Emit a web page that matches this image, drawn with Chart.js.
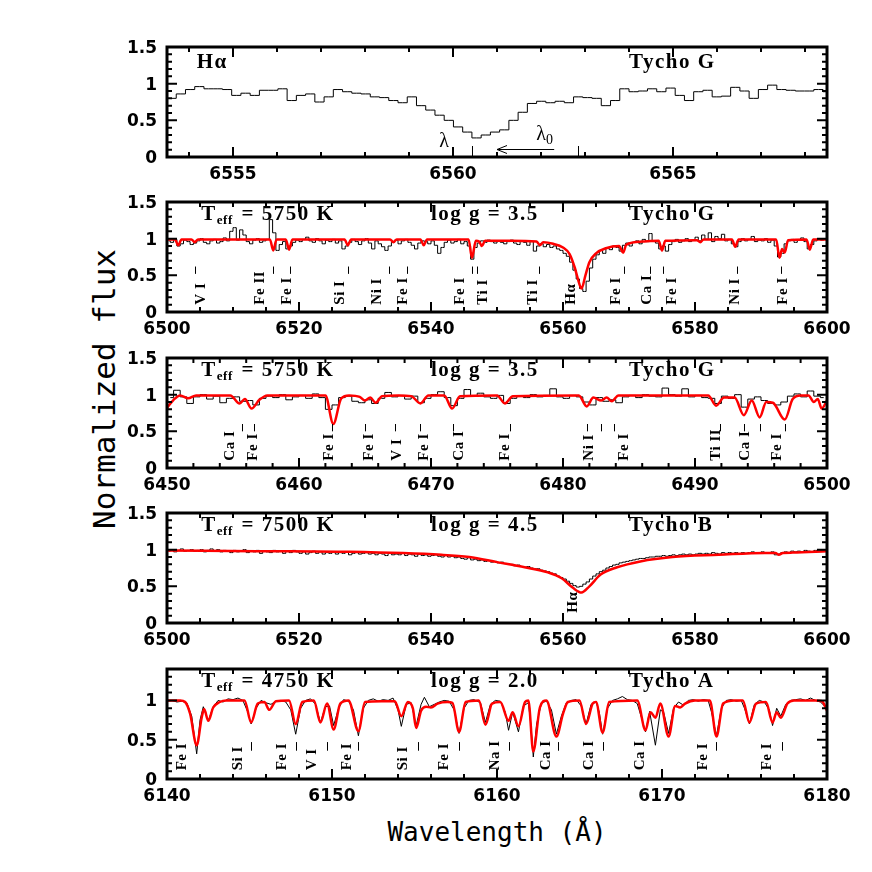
<!DOCTYPE html>
<html>
<head>
<meta charset="utf-8">
<script src="https://cdn.jsdelivr.net/npm/chart.js@4.4.0/dist/chart.umd.min.js"></script>
<style>
  html, body { margin: 0; padding: 0; background: #fff; }
  #page { position: relative; width: 872px; height: 872px; overflow: hidden; }
  .panel { position: absolute; left: 0; }
  #ytitle { position: absolute; left: 104px; top: 389px; transform: translate(-50%, -50%) rotate(-90deg);
            font: 31px "DejaVu Sans Mono"; white-space: nowrap; color: #000; }
  #xtitle { position: absolute; left: 497px; top: 832px; transform: translate(-50%, -50%);
            font: 26px "DejaVu Sans Mono"; white-space: nowrap; color: #000; }
</style>
</head>
<body>
<div id="page">
  <div id="ytitle">Normalized flux</div>
  <div id="xtitle">Wavelength (Å)</div>
</div>
<script>
/* ═══════════════════════════════════════════
   DATA  (flux)
═══════════════════════════════════════════ */
// panel 1 : H-alpha, Tycho G, binned spectrum
const p1Start = 6553.5, p1Step = 0.21;
const p1Flux = [
  0.80,0.86,0.92,0.96,0.93,0.93,0.92,0.84,0.87,0.84,
  0.91,0.91,0.93,0.77,0.84,0.86,0.75,0.82,0.92,0.89,
  0.87,0.86,0.82,0.81,0.77,0.74,0.82,0.70,0.64,0.57,
  0.50,0.41,0.34,0.26,0.30,0.34,0.37,0.50,0.61,0.73,
  0.76,0.74,0.76,0.74,0.82,0.81,0.80,0.70,0.77,0.93,
  0.89,0.90,0.93,0.89,0.94,0.84,0.77,0.89,0.91,0.82,
  0.83,0.95,0.90,0.80,0.92,0.98,0.92,0.91,0.90,0.90,
  0.92,0.89
];

// panel 2 : Tycho G, 6500-6600
const p2Start = 6500, p2Step = 0.5;
const p2Flux = [
  0.97,0.95,0.99,0.90,0.93,0.98,0.96,0.92,0.94,0.97,
  1.00,0.95,0.93,0.97,0.99,0.94,0.96,1.01,0.97,1.10,
  1.15,0.98,1.12,1.05,0.96,0.93,0.98,1.00,0.95,0.97,
  0.99,1.26,1.08,0.84,0.92,0.96,0.86,0.90,0.95,0.98,
  0.96,0.99,1.02,0.97,0.95,1.00,0.97,0.93,0.98,0.96,
  0.99,0.94,0.97,0.86,0.90,0.95,0.99,0.96,0.92,0.97,
  1.00,0.94,0.86,0.97,0.93,0.89,0.84,0.90,0.95,0.98,
  0.93,0.97,0.99,0.95,0.91,0.86,0.94,0.97,0.96,0.93,
  0.97,0.91,0.80,0.88,0.95,0.98,0.94,0.96,0.99,0.93,
  0.96,0.90,0.72,0.88,0.94,0.97,0.95,0.98,0.96,0.94,
  0.97,0.95,0.93,0.96,0.98,0.94,0.92,0.96,0.95,0.91,
  0.96,0.83,0.90,0.93,0.89,0.92,0.88,0.90,0.86,0.84,
  0.80,0.76,0.68,0.57,0.45,0.32,0.28,0.42,0.60,0.72,
  0.78,0.84,0.80,0.87,0.85,0.90,0.88,0.83,0.91,0.94,
  0.90,0.95,0.97,0.93,0.99,0.96,1.07,0.97,0.94,0.86,
  0.90,0.83,0.92,0.96,0.99,0.95,0.97,1.00,0.96,0.98,
  1.02,0.97,1.05,0.99,1.08,0.96,1.03,1.00,1.06,0.97,
  0.99,0.93,0.89,0.96,1.00,0.97,0.99,1.03,0.96,0.98,
  0.97,1.00,0.95,0.98,0.90,0.75,0.80,0.93,0.97,0.99,
  0.95,0.98,1.01,0.96,0.86,0.92,0.97,1.00,0.98,0.99
];
const p2Model = [
  [6500,0.99],[6501.2,0.99],[6501.7,0.91],[6502.2,0.99],[6503.7,0.99],[6504.2,0.95],[6504.7,0.99],
  [6515.6,0.99],[6516.1,0.84],[6516.6,0.99],[6518.0,0.99],[6518.5,0.85],[6519.0,0.99],
  [6526.9,0.99],[6527.4,0.91],[6527.9,0.99],[6533.8,0.99],[6534.3,0.95],[6534.8,0.99],
  [6538.4,0.99],[6538.9,0.91],[6539.4,0.99],[6545.7,0.99],[6546.2,0.74],[6546.8,0.97],
  [6547.3,0.96],[6547.7,0.90],[6548.2,0.97],[6552,0.97],[6556.0,0.96],[6556.5,0.91],[6557.0,0.95],
  [6558.5,0.93],[6560,0.88],[6561.0,0.79],[6561.8,0.60],[6562.2,0.47],[6562.8,0.32],[6563.4,0.50],
  [6564,0.68],[6565,0.80],[6566.5,0.87],[6568.5,0.90],[6569.1,0.81],[6569.6,0.92],[6572,0.96],
  [6574.5,0.97],[6575.0,0.84],[6575.5,0.97],[6580.3,0.98],[6580.8,0.95],[6581.3,0.99],
  [6585.6,0.99],[6586.1,0.89],[6586.6,0.99],[6592.3,0.99],[6592.8,0.74],[6593.2,0.86],[6593.6,0.81],
  [6594.1,0.98],[6596.9,0.99],[6597.4,0.85],[6597.9,0.99],[6600,0.99]
];
const p2Ids = [
  ['V I',6505.2,6504.2],['Fe II',6514.1,6516.0],['Fe I',6518.2,6518.6],['Si I',6526.2,6527.4],
  ['Ni I',6531.8,6533.6],['Fe I',6535.8,6536.3],['Fe I',6544.4,6546.2],['Ti I',6547.9,6546.9],
  ['Ti I',6555.5,6556.3],['Hα',6561.3,null],['Fe I',6568.1,6569.2],['Ca I',6572.7,6573.2],
  ['Fe I',6576.5,6575.1],['Ni I',6586.1,6586.4],['Fe I',6593.4,6593.0]
];

// panel 3 : Tycho G, 6450-6500
const p3Start = 6450, p3Step = 0.5;
const p3Flux = [
  0.96,1.06,0.97,0.88,0.97,1.00,0.94,0.98,0.89,0.95,
  0.97,0.91,0.92,0.86,0.95,0.98,0.96,1.00,0.93,0.97,
  0.99,0.95,1.01,0.96,0.80,0.86,0.96,0.98,0.91,0.89,
  0.93,0.88,0.95,1.03,0.97,0.99,0.94,0.98,0.89,0.95,
  1.00,1.04,0.96,0.85,0.95,1.07,0.98,1.02,0.97,0.95,
  0.99,0.88,0.95,0.98,0.96,1.00,0.97,0.99,1.08,0.97,
  0.95,0.99,0.97,0.90,0.86,0.96,0.91,0.93,0.89,0.97,
  0.99,0.96,1.00,0.98,0.97,1.09,1.00,0.98,1.08,0.97,
  0.99,0.96,0.95,0.88,0.98,0.95,1.00,0.83,0.94,0.97,
  0.92,0.88,0.86,0.90,0.98,1.01,0.97,1.05,0.98,0.96
];
const p3Model = [
  [6450,0.82],[6450.5,0.93],[6451.0,0.99],[6451.6,0.95],[6452.2,0.99],[6454.8,0.99],[6455.5,0.88],
  [6455.9,0.94],[6456.4,0.81],[6457.0,0.93],[6457.6,0.99],[6462.0,0.99],[6462.6,0.60],[6463.2,0.95],
  [6463.8,0.99],[6464.6,0.97],[6465.0,0.92],[6465.4,0.96],[6465.8,0.89],[6466.3,0.98],[6467.5,0.99],
  [6468.5,0.98],[6469.2,0.88],[6469.8,0.99],[6471.0,0.99],[6471.6,0.81],[6472.2,0.98],[6475.0,0.99],
  [6475.6,0.88],[6476.2,0.98],[6481.2,0.99],[6481.8,0.84],[6482.3,0.96],[6482.9,0.92],[6483.3,0.96],
  [6483.7,0.91],[6484.2,0.99],[6491.0,0.99],[6491.6,0.85],[6492.2,0.96],[6493.0,0.96],[6493.7,0.72],
  [6494.3,0.92],[6494.9,0.69],[6495.4,0.90],[6495.9,0.89],[6496.8,0.66],[6497.4,0.94],[6498.0,0.99],
  [6498.6,0.99],[6499.0,0.90],[6499.3,0.94],[6499.6,0.81],[6500,0.92]
];
const p3Ids = [
  ['Ca I',6454.8,6455.7],['Fe I',6456.5,6456.6],['Fe I',6462.3,6462.5],['Fe I',6465.3,6465.0],
  ['V I',6467.4,6467.3],['Fe I',6469.5,6469.2],['Ca I',6472.1,6471.7],['Fe I',6475.6,6476.0],
  ['Ni I',6482.0,6481.8],['',null,6482.9],['Fe I',6484.6,6483.9],['Ti II',6491.6,6491.9],
  ['Ca I',6493.8,6493.7],['',null,6494.9],['Fe I',6496.2,6496.8]
];

// panel 4 : Tycho B, 6500-6600
const p4Start = 6500, p4Step = 0.5;
const p4Flux = [
  0.98,1.00,0.97,0.99,1.01,0.98,0.99,1.00,0.98,0.99,
  1.00,0.97,0.99,1.01,0.98,1.00,0.97,0.99,0.98,0.96,
  0.99,0.97,0.98,1.00,0.96,0.98,0.97,0.99,0.95,0.98,
  0.97,0.96,0.99,0.97,0.98,0.95,0.98,0.96,0.99,0.97,
  0.95,0.97,0.94,0.96,0.98,0.95,0.97,0.94,0.96,0.95,
  0.97,0.94,0.96,0.95,0.97,0.93,0.95,0.96,0.94,0.95,
  0.96,0.94,0.95,0.93,0.95,0.94,0.92,0.95,0.93,0.94,
  0.93,0.95,0.92,0.94,0.93,0.91,0.94,0.92,0.93,0.91,
  0.92,0.93,0.91,0.90,0.92,0.90,0.91,0.89,0.90,0.88,
  0.87,0.89,0.86,0.87,0.85,0.86,0.84,0.85,0.83,0.84,
  0.82,0.83,0.81,0.80,0.80,0.78,0.79,0.77,0.76,0.77,
  0.75,0.74,0.74,0.72,0.71,0.70,0.68,0.67,0.64,0.62,
  0.60,0.57,0.54,0.51,0.49,0.50,0.53,0.56,0.60,0.64,
  0.67,0.70,0.72,0.75,0.77,0.79,0.80,0.82,0.83,0.84,
  0.85,0.86,0.87,0.88,0.88,0.89,0.90,0.90,0.91,0.91,
  0.92,0.91,0.92,0.93,0.92,0.93,0.94,0.93,0.94,0.93,
  0.94,0.95,0.94,0.95,0.94,0.96,0.95,0.94,0.96,0.95,
  0.96,0.95,0.96,0.94,0.96,0.95,0.96,0.97,0.95,0.96,
  0.97,0.96,0.95,0.97,0.93,0.94,0.96,0.97,0.96,0.98,
  0.97,0.98,0.97,0.99,0.98,0.97,0.99,0.98,0.99,0.98
];
const p4Model = [
  [6500,0.99],[6513.6,0.98],[6527.6,0.97],[6541.6,0.93],[6545.8,0.90],[6550,0.83],[6554.2,0.76],
  [6557.7,0.69],[6559.8,0.61],[6561.5,0.48],[6562.8,0.415],[6564.0,0.50],[6565.7,0.66],[6568.2,0.76],
  [6571.7,0.84],[6576.6,0.90],[6583.6,0.93],[6590.6,0.955],[6592.2,0.955],[6592.7,0.93],
  [6593.3,0.955],[6594.8,0.96],[6600,0.98]
];
const p4Ids = [['Hα',6561.5,null]];

// panel 5 : Tycho A, 6140-6180
const p5Obs = [
  [6140.0,0.99],[6140.3,1.00],[6140.6,0.98],[6140.9,0.99],[6141.2,0.97],[6141.5,0.80],[6141.8,0.32],
  [6142.0,0.75],[6142.2,0.92],[6142.5,0.74],[6142.8,0.92],[6143.1,1.00],[6143.4,0.98],[6143.7,1.02],
  [6144.0,1.01],[6144.3,1.03],[6144.6,1.00],[6144.9,0.85],[6145.1,0.70],[6145.4,0.90],[6145.7,1.00],
  [6146.0,0.97],[6146.3,0.95],[6146.6,0.99],[6146.9,1.00],[6147.2,0.98],[6147.5,0.88],[6147.8,0.57],
  [6148.1,0.90],[6148.4,1.00],[6148.7,1.02],[6149.0,0.95],[6149.3,0.72],[6149.6,0.92],[6149.85,0.93],
  [6150.1,0.68],[6150.4,0.90],[6150.7,1.01],[6151.0,0.99],[6151.3,0.88],[6151.6,0.55],[6151.9,0.90],
  [6152.2,1.00],[6152.5,1.02],[6152.8,0.99],[6153.1,1.01],[6153.4,1.00],[6153.7,1.03],[6154.0,0.88],
  [6154.2,0.67],[6154.5,0.95],[6154.8,0.97],[6155.1,0.68],[6155.4,0.95],[6155.6,1.04],[6155.9,0.92],
  [6156.2,0.95],[6156.5,0.98],[6156.8,1.00],[6157.1,0.99],[6157.4,0.88],[6157.7,0.58],[6158.0,0.90],
  [6158.3,1.00],[6158.6,1.01],[6159.0,0.97],[6159.3,0.72],[6159.6,0.95],[6159.9,1.00],[6160.2,0.99],
  [6160.5,0.85],[6160.7,0.62],[6160.95,0.85],[6161.3,0.60],[6161.6,0.93],[6161.9,0.97],[6162.05,0.70],
  [6162.2,0.28],[6162.4,0.70],[6162.7,0.97],[6163.0,0.99],[6163.3,0.88],[6163.6,0.57],[6163.9,0.80],
  [6164.2,0.97],[6164.5,1.00],[6164.8,1.01],[6165.1,0.93],[6165.4,0.70],[6165.7,0.95],[6166.0,0.98],
  [6166.2,0.85],[6166.4,0.57],[6166.7,0.90],[6167.0,1.00],[6167.3,1.02],[6167.6,1.05],[6167.9,1.01],
  [6168.2,1.00],[6168.5,0.96],[6168.8,0.75],[6169.0,0.60],[6169.25,0.86],[6169.6,0.43],[6169.9,0.88],
  [6170.1,0.85],[6170.4,0.58],[6170.7,0.90],[6171.0,0.98],[6171.3,0.94],[6171.6,1.00],[6171.9,1.01],
  [6172.2,0.99],[6172.5,1.01],[6172.8,1.00],[6173.0,0.85],[6173.3,0.55],[6173.6,0.90],[6173.9,1.00],
  [6174.2,1.01],[6174.5,0.99],[6174.8,1.00],[6175.0,0.90],[6175.3,0.70],[6175.6,0.95],[6175.9,1.00],
  [6176.2,0.98],[6176.5,0.88],[6176.7,0.68],[6176.95,0.90],[6177.2,0.80],[6177.5,0.95],[6177.8,1.00],
  [6178.1,1.01],[6178.4,1.02],[6178.7,1.00],[6179.0,1.03],[6179.3,1.00],[6179.6,0.98],[6180.0,0.90]
];
const p5Model = [
  [6140,1.0],[6140.8,1.0],[6141.1,0.98],[6141.4,0.83],[6141.8,0.43],[6142.1,0.78],[6142.25,0.89],
  [6142.5,0.74],[6142.8,0.91],[6143.2,0.98],[6143.6,1.0],[6144.7,1.0],[6145.1,0.72],[6145.5,0.96],
  [6145.9,0.98],[6146.2,0.88],[6146.6,0.99],[6147.4,1.0],[6147.8,0.70],[6148.2,0.98],[6148.9,1.0],
  [6149.3,0.72],[6149.7,0.96],[6150.1,0.63],[6150.5,0.96],[6151.0,1.0],[6151.6,0.61],[6152.0,0.98],
  [6153.0,0.99],[6153.8,0.99],[6154.2,0.80],[6154.6,0.98],[6154.9,0.90],[6155.1,0.65],[6155.4,0.87],
  [6155.7,0.92],[6156.0,0.91],[6156.4,0.96],[6157.0,0.98],[6157.3,0.97],[6157.7,0.60],[6158.1,0.98],
  [6158.9,1.0],[6159.3,0.69],[6159.7,0.96],[6160.2,0.98],[6160.7,0.74],[6160.95,0.85],[6161.3,0.67],
  [6161.7,0.98],[6161.9,1.0],[6162.2,0.35],[6162.6,0.91],[6163.0,1.0],[6163.6,0.54],[6164.0,0.83],
  [6164.3,0.98],[6165.0,1.0],[6165.4,0.70],[6165.8,0.96],[6166.0,0.98],[6166.4,0.59],[6166.8,0.98],
  [6168.5,1.0],[6169.0,0.62],[6169.3,0.85],[6169.6,0.78],[6169.9,0.96],[6170.4,0.54],[6170.8,0.93],
  [6171.1,0.91],[6171.4,0.96],[6172.0,1.0],[6172.9,1.0],[6173.3,0.54],[6173.7,0.96],[6174.4,1.0],
  [6174.9,1.0],[6175.3,0.72],[6175.7,0.96],[6176.3,0.98],[6176.7,0.72],[6176.95,0.85],[6177.2,0.78],
  [6177.6,0.96],[6178.0,1.0],[6179.3,1.0],[6179.7,0.99],[6180,0.87]
];
const p5Ids = [
  ['Fe I',6140.9,null],['Si I',6144.3,6145.1],['Fe I',6147.0,6147.8],['V I',6148.8,6149.7],
  ['Fe I',6150.9,6151.6],['Si I',6154.3,6155.2],['Fe I',6156.8,6157.7],['Na I',6159.9,6160.7],
  ['Ca I',6163.0,6163.7],['Ca I',6165.6,6166.4],['Ca I',6168.7,null],['Fe I',6172.5,6173.3],
  ['Fe I',6176.4,6177.3]
];

/* ═══════════════════════════════════════════
   LAYOUT
═══════════════════════════════════════════ */
const LEFT = 167, RIGHT = 827, BOX_H = 110, PAD_T = 16, PAD_B = 30;
const SERIF = '"Liberation Serif", "DejaVu Serif", serif';
const NUMF = 'bold 17px "DejaVu Sans"';

function binned(start, step, flux) {
  return flux.map((f, i) => ({ x: start + (i + 0.5) * step, y: f }));
}
function pairs(arr) { return arr.map(([x, y]) => ({ x, y })); }

function obsSet(data, stepped) {
  return { data, borderColor: '#000', borderWidth: 1, pointRadius: 0, fill: false,
           stepped: stepped ? 'middle' : false, tension: 0, order: 2 };
}
function modelSet(data) {
  return { data, borderColor: '#ff0000', borderWidth: 2.5, pointRadius: 0, fill: false,
           cubicInterpolationMode: 'monotone', order: 1 };
}

/* ═══════════════════════════════════════════
   TEXT HELPERS
═══════════════════════════════════════════ */
function bigText(ctx) {
  ctx.font = `bold 21px ${SERIF}`;
  if ('letterSpacing' in ctx) ctx.letterSpacing = '1.5px';
}
function drawHeader(ctx, a, h) {
  ctx.save();
  ctx.fillStyle = '#000';
  ctx.textAlign = 'left';
  ctx.textBaseline = 'alphabetic';
  const base = a.top + 18;
  if (h.teff) {
    let px = a.left + 0.052 * a.width;
    bigText(ctx);
    ctx.fillText('T', px, base);
    px += ctx.measureText('T').width;
    ctx.font = `bold 13px ${SERIF}`;
    if ('letterSpacing' in ctx) ctx.letterSpacing = '0.5px';
    ctx.fillText('eff', px, base + 4);
    px += ctx.measureText('eff').width + 2;
    bigText(ctx);
    ctx.fillText(` = ${h.teff} K`, px, base);
    ctx.fillText(`log g = ${h.logg}`, a.left + 0.40 * a.width, base);
  }
  bigText(ctx);
  if (h.left) ctx.fillText(h.left, a.left + 0.045 * a.width, a.top + 21);
  ctx.fillText(h.star, a.left + 0.70 * a.width, h.teff ? base : a.top + 21);
  ctx.restore();
}

function drawIds(ctx, x, y, ids, base, tLo, tHi) {
  ctx.save();
  ctx.fillStyle = '#000';
  ctx.strokeStyle = '#000';
  ctx.lineWidth = 1;
  ctx.font = `bold 15px ${SERIF}`;
  if ('letterSpacing' in ctx) ctx.letterSpacing = '0.5px';
  ids.forEach(([name, tx, kx]) => {
    if (name) {
      ctx.save();
      ctx.translate(x.getPixelForValue(tx), y.getPixelForValue(base));
      ctx.rotate(-Math.PI / 2);
      ctx.textAlign = 'left';
      ctx.textBaseline = 'middle';
      ctx.fillText(name, 0, 0);
      ctx.restore();
    }
    if (kx != null) {
      const px = Math.round(x.getPixelForValue(kx)) + 0.5;
      ctx.beginPath();
      ctx.moveTo(px, y.getPixelForValue(tLo));
      ctx.lineTo(px, y.getPixelForValue(tHi));
      ctx.stroke();
    }
  });
  ctx.restore();
}

/* ═══════════════════════════════════════════
   FRAME / TICKS PLUGIN
═══════════════════════════════════════════ */
function framePlugin(cfg) {
  return {
    id: 'frame',
    afterDatasetsDraw(chart) {
      const { ctx, chartArea: a, scales: { x, y } } = chart;
      ctx.save();
      ctx.strokeStyle = '#000';
      ctx.fillStyle = '#000';

      // x ticks, bottom and top
      ctx.lineWidth = 2;
      const n0 = Math.ceil(cfg.xMin / cfg.xMinor - 1e-6), n1 = Math.floor(cfg.xMax / cfg.xMinor + 1e-6);
      const xLabels = [];
      for (let n = n0; n <= n1; n++) {
        const v = n * cfg.xMinor;
        const major = Math.abs(v / cfg.xMajor - Math.round(v / cfg.xMajor)) < 1e-6;
        const px = x.getPixelForValue(v);
        const len = major ? 10 : 5;
        ctx.beginPath();
        ctx.moveTo(px, a.bottom); ctx.lineTo(px, a.bottom - len);
        ctx.moveTo(px, a.top); ctx.lineTo(px, a.top + len);
        ctx.stroke();
        if (major) xLabels.push([px, String(Math.round(v))]);
      }
      // y ticks, left and right
      const yLabels = [];
      for (let n = 0; n * 0.1 <= cfg.yMax + 1e-6; n++) {
        const v = n * 0.1;
        const major = n % 5 === 0;
        const py = y.getPixelForValue(v);
        const len = major ? 10 : 5;
        ctx.beginPath();
        ctx.moveTo(a.left, py); ctx.lineTo(a.left + len, py);
        ctx.moveTo(a.right, py); ctx.lineTo(a.right - len, py);
        ctx.stroke();
        if (major) yLabels.push([py, String(+v.toFixed(1))]);
      }
      // box
      ctx.lineWidth = 3;
      ctx.strokeRect(a.left, a.top, a.right - a.left, a.bottom - a.top);

      // tick labels
      ctx.font = NUMF;
      ctx.textBaseline = 'alphabetic';
      ctx.textAlign = 'center';
      xLabels.forEach(([px, t]) => ctx.fillText(t, px, a.bottom + 22));
      ctx.textAlign = 'right';
      yLabels.forEach(([py, t]) => ctx.fillText(t, a.left - 10, py + 6));
      ctx.restore();

      drawHeader(ctx, a, cfg.header);
      if (cfg.ids) drawIds(ctx, x, y, cfg.ids, cfg.idBase, cfg.tickLo, cfg.tickHi);
      if (cfg.extra) cfg.extra(ctx, x, y);
    }
  };
}

// lambda / lambda_0 markers of the top panel
function drawLambda(ctx, x, y) {
  ctx.save();
  ctx.strokeStyle = '#000';
  ctx.fillStyle = '#000';
  ctx.lineWidth = 1;
  [6560.43, 6562.85].forEach(w => {
    const px = Math.round(x.getPixelForValue(w)) + 0.5;
    ctx.beginPath();
    ctx.moveTo(px, y.getPixelForValue(0)); ctx.lineTo(px, y.getPixelForValue(0.15));
    ctx.stroke();
  });
  // arrow
  const ay = Math.round(y.getPixelForValue(0.11)) + 0.5;
  const x0 = x.getPixelForValue(6562.3), x1 = x.getPixelForValue(6561.0);
  ctx.beginPath();
  ctx.moveTo(x0, ay); ctx.lineTo(x1, ay);
  ctx.moveTo(x1 + 10, ay - 4); ctx.lineTo(x1, ay); ctx.lineTo(x1 + 10, ay + 4);
  ctx.stroke();
  ctx.font = `20px ${SERIF}`;
  ctx.textAlign = 'center';
  ctx.fillText('λ', x.getPixelForValue(6559.8), y.getPixelForValue(0.13));
  ctx.fillText('λ', x.getPixelForValue(6562.0), y.getPixelForValue(0.23));
  ctx.font = `14px ${SERIF}`;
  ctx.textAlign = 'left';
  ctx.fillText('0', x.getPixelForValue(6562.0) + 5, y.getPixelForValue(0.23) + 4);
  ctx.restore();
}

/* ═══════════════════════════════════════════
   PANELS
═══════════════════════════════════════════ */
const panels = [
  { top: 47, xMin: 6553.5, xMax: 6568.5, xMajor: 5, xMinor: 1, yMax: 1.5,
    sets: [obsSet(binned(p1Start, p1Step, p1Flux), true)],
    header: { left: 'Hα', star: 'Tycho G' }, extra: drawLambda },
  { top: 202, xMin: 6500, xMax: 6600, xMajor: 20, xMinor: 5, yMax: 1.5,
    sets: [modelSet(pairs(p2Model)), obsSet(binned(p2Start, p2Step, p2Flux), true)],
    header: { teff: 5750, logg: '3.5', star: 'Tycho G' },
    ids: p2Ids, idBase: 0.1, tickLo: 0.52, tickHi: 0.62 },
  { top: 358, xMin: 6450, xMax: 6500, xMajor: 10, xMinor: 2, yMax: 1.5,
    sets: [modelSet(pairs(p3Model)), obsSet(binned(p3Start, p3Step, p3Flux), true)],
    header: { teff: 5750, logg: '3.5', star: 'Tycho G' },
    ids: p3Ids, idBase: 0.1, tickLo: 0.5, tickHi: 0.6 },
  { top: 513, xMin: 6500, xMax: 6600, xMajor: 20, xMinor: 5, yMax: 1.5,
    sets: [modelSet(pairs(p4Model)), obsSet(binned(p4Start, p4Step, p4Flux), true)],
    header: { teff: 7500, logg: '4.5', star: 'Tycho B' },
    ids: p4Ids, idBase: 0.14, tickLo: 0, tickHi: 0 },
  { top: 669, xMin: 6140, xMax: 6180, xMajor: 10, xMinor: 2, yMax: 1.4,
    sets: [modelSet(pairs(p5Model)), obsSet(pairs(p5Obs), false)],
    header: { teff: 4750, logg: '2.0', star: 'Tycho A' },
    ids: p5Ids, idBase: 0.11, tickLo: 0.36, tickHi: 0.47 }
];

const page = document.getElementById('page');
panels.forEach(cfg => {
  const cv = document.createElement('canvas');
  cv.className = 'panel';
  cv.width = 872;
  cv.height = PAD_T + BOX_H + PAD_B;
  cv.style.top = (cfg.top - PAD_T) + 'px';
  cv.style.width = '872px';
  cv.style.height = cv.height + 'px';
  page.appendChild(cv);

  new Chart(cv.getContext('2d'), {
    type: 'line',
    data: { datasets: cfg.sets },
    options: {
      responsive: false,
      animation: false,
      devicePixelRatio: 1,
      layout: { padding: { left: LEFT, right: 872 - RIGHT, top: PAD_T, bottom: PAD_B } },
      scales: {
        x: { type: 'linear', min: cfg.xMin, max: cfg.xMax, display: false },
        y: { type: 'linear', min: 0, max: cfg.yMax, display: false }
      },
      plugins: { legend: { display: false }, tooltip: { enabled: false } }
    },
    plugins: [framePlugin(cfg)]
  });
});
</script>
</body>
</html>
